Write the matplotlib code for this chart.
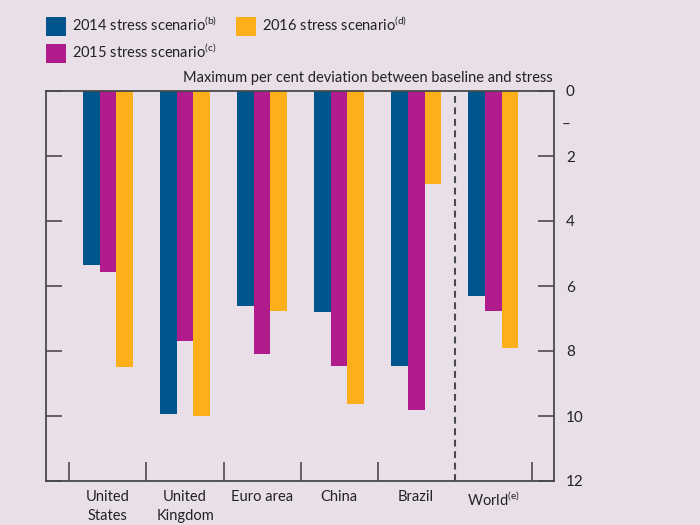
import matplotlib
matplotlib.use("Agg")
import matplotlib.pyplot as plt
from matplotlib.patches import Patch
from matplotlib.ticker import FixedLocator, FixedFormatter, NullFormatter

# Data
categories = ["United\nStates", "United\nKingdom", "Euro area", "China", "Brazil",
              "World$^{\\mathrm{(e)}}$"]
stress2014 = [5.35, 9.95, 6.62, 6.8, 8.45, 6.3]
stress2015 = [5.57, 7.7, 8.1, 8.45, 9.82, 6.78]
stress2016 = [8.5, 10.0, 6.77, 9.63, 2.87, 7.9]
seriesLabels = [
    "2014 stress scenario$^{\\mathrm{(b)}}$",
    "2015 stress scenario$^{\\mathrm{(c)}}$",
    "2016 stress scenario$^{\\mathrm{(d)}}$",
]
yTicks = [0, 2, 4, 6, 8, 10, 12]

BG = "#e8dfe9"
COLORS = ["#00558c", "#b01c8c", "#fbb01b"]
AXIS = "#4a4a4a"
TEXT = "#222222"

plt.rcParams["font.family"] = ["Lato", "DejaVu Sans"]
plt.rcParams["mathtext.fontset"] = "custom"
plt.rcParams["mathtext.rm"] = "Lato"
plt.rcParams["font.size"] = 10.5

fig = plt.figure(figsize=(7.0, 5.25), dpi=100, facecolor=BG)
ax = fig.add_axes([46 / 700, 44 / 525, 507.5 / 700, 390 / 525])
ax.set_facecolor(BG)

x = list(range(len(categories)))
width = 0.22
for k, vals in enumerate([stress2014, stress2015, stress2016]):
    ax.bar([i + (k - 1) * width for i in x], vals, width=width,
           color=COLORS[k], linewidth=0, zorder=2)

ax.set_xlim(-0.805, 5.785)
ax.set_ylim(12, 0)

ax.axvline(4.5, color=AXIS, linewidth=1.5, linestyle=(0, (3.3, 2.2)), zorder=3)

for side in ax.spines.values():
    side.set_color(AXIS)
    side.set_linewidth(1.3)

# y axis: labels on the right, ticks inwards both sides
ax.set_yticks(yTicks)
ax.yaxis.set_minor_locator(FixedLocator([1]))
ax.yaxis.set_minor_formatter(FixedFormatter(["\u2013"]))
ax.tick_params(axis="y", which="major", direction="in", left=True, right=True,
               labelleft=False, labelright=True, length=11.5, width=1.2,
               color=AXIS, labelcolor=TEXT, labelsize=11, pad=9)
ax.tick_params(axis="y", which="minor", direction="in", left=False, right=True,
               labelleft=False, labelright=True, length=0,
               labelcolor=TEXT, labelsize=11, pad=6)

# x axis: boundary ticks and category labels
ax.set_xticks([-0.5, 0.5, 1.5, 2.5, 3.5, 5.5])
ax.xaxis.set_major_formatter(NullFormatter())
ax.xaxis.set_minor_locator(FixedLocator(x))
ax.xaxis.set_minor_formatter(FixedFormatter(categories))
ax.tick_params(axis="x", which="major", direction="in", length=13.5, width=1.2,
               color=AXIS)
ax.tick_params(axis="x", which="minor", length=0, pad=6.5, labelsize=10.5,
               labelcolor=TEXT)
for lbl in ax.xaxis.get_minorticklabels():
    lbl.set_linespacing(1.45)

fig.text(553 / 700, 1 - 78 / 525, "Maximum per cent deviation between baseline and stress",
         ha="right", va="center", fontsize=10.5, color=TEXT)

handles = [Patch(facecolor=c, edgecolor="none") for c in COLORS]
fig.legend(handles, seriesLabels, loc="upper left", ncol=2,
           bbox_to_anchor=(46 / 700, 1 - 15 / 525), frameon=False,
           borderpad=0, borderaxespad=0, handlelength=1.37, handleheight=1.63,
           handletextpad=0.42, columnspacing=1.3, labelspacing=0.4,
           fontsize=10.5, labelcolor=TEXT)

fig.savefig("out.png", dpi=100, facecolor=BG)
